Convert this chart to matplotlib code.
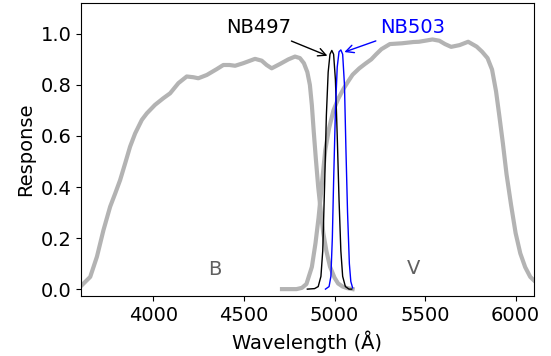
import matplotlib
matplotlib.use("Agg")
import matplotlib.pyplot as plt

# B filter response
b_wave = [3600, 3651, 3688, 3724, 3761, 3789, 3816, 3844, 3871, 3899, 3936, 3964,
          4009, 4055, 4092, 4138, 4184, 4221, 4248, 4295, 4350, 4386, 4420, 4451,
          4496, 4561, 4598, 4625, 4653, 4699, 4745, 4782, 4809, 4831, 4850, 4864,
          4875, 4885, 4897, 4910, 4925, 4938, 4955, 4975, 5000, 5020, 5045, 5070, 5100]
b_resp = [0.012, 0.048, 0.127, 0.231, 0.323, 0.375, 0.427, 0.493, 0.558, 0.61, 0.663, 0.689,
          0.722, 0.748, 0.767, 0.807, 0.833, 0.830, 0.826, 0.839, 0.862, 0.878, 0.878, 0.875,
          0.885, 0.902, 0.895, 0.878, 0.865, 0.882, 0.90, 0.911, 0.905, 0.885, 0.85, 0.80,
          0.72, 0.62, 0.51, 0.40, 0.30, 0.22, 0.15, 0.088, 0.045, 0.022, 0.01, 0.004, 0.0]

# V filter response
v_wave = [4710, 4790, 4820, 4845, 4875, 4895, 4912, 4930, 4949, 4970, 4994, 5020,
          5050, 5072, 5100, 5137, 5170, 5203, 5230, 5259, 5306, 5372, 5436, 5466,
          5500, 5541, 5579, 5610, 5644, 5691, 5738, 5785, 5815, 5845, 5870, 5892,
          5910, 5930, 5950, 5975, 6000, 6026, 6053, 6081, 6100]
v_resp = [0.0, 0.0, 0.005, 0.02, 0.087, 0.18, 0.28, 0.41, 0.545, 0.63, 0.70, 0.745,
          0.785, 0.81, 0.84, 0.865, 0.883, 0.90, 0.92, 0.94, 0.96, 0.963, 0.968, 0.969,
          0.973, 0.978, 0.973, 0.96, 0.949, 0.956, 0.969, 0.95, 0.93, 0.905, 0.86, 0.775,
          0.68, 0.57, 0.45, 0.33, 0.22, 0.14, 0.086, 0.048, 0.035]

# NB497 narrow-band response
nb497_wave = [4850, 4890, 4910, 4925, 4935, 4945, 4955, 4965, 4975, 4985, 4995,
              5005, 5015, 5025, 5035, 5045, 5060, 5080, 5095]
nb497_resp = [0.0, 0.002, 0.01, 0.05, 0.15, 0.40, 0.68, 0.85, 0.92, 0.935, 0.92,
              0.82, 0.60, 0.35, 0.15, 0.05, 0.01, 0.0, 0.0]

# NB503 narrow-band response
nb503_wave = [4950, 4970, 4980, 4988, 4995, 5005, 5015, 5025, 5035, 5045, 5055,
              5063, 5072, 5082, 5090, 5100]
nb503_resp = [0.0, 0.01, 0.05, 0.2, 0.42, 0.7, 0.87, 0.93, 0.937, 0.92, 0.8,
              0.55, 0.3, 0.1, 0.03, 0.005]

x_ticks = [4000, 4500, 5000, 5500, 6000]
y_ticks = [0.0, 0.2, 0.4, 0.6, 0.8, 1.0]

fig = plt.figure(figsize=(5.51, 3.56), dpi=100)
ax = fig.add_axes([0.147, 0.1685, 0.9686 - 0.147, 0.9924 - 0.1685])

gray = '#b3b3b3'
ax.plot(b_wave, b_resp, color=gray, lw=3, solid_joinstyle='round')
ax.plot(v_wave, v_resp, color=gray, lw=3, solid_joinstyle='round')
ax.plot(nb497_wave, nb497_resp, color='black', lw=1)
ax.plot(nb503_wave, nb503_resp, color='blue', lw=1)

ax.annotate('NB497', xy=(4975, 0.91), xytext=(4582, 1.024), ha='center', va='center',
            fontsize=14, color='black',
            arrowprops=dict(arrowstyle='->', color='black', lw=1))
ax.annotate('NB503', xy=(5040, 0.925), xytext=(5434, 1.024), ha='center', va='center',
            fontsize=14, color='blue',
            arrowprops=dict(arrowstyle='->', color='blue', lw=1))

ax.text(4341, 0.078, 'B', ha='center', va='center', fontsize=14, color='#606060')
ax.text(5434, 0.08, 'V', ha='center', va='center', fontsize=14, color='#606060')

ax.set_xlim(3600, 6100)
ax.set_ylim(-0.027, 1.122)
ax.set_xticks(x_ticks)
ax.set_yticks(y_ticks)
ax.tick_params(labelsize=14)
ax.set_xlabel('Wavelength (Å)', fontsize=14)
ax.set_ylabel('Response', fontsize=14)

fig.savefig('out.png', dpi=100)
